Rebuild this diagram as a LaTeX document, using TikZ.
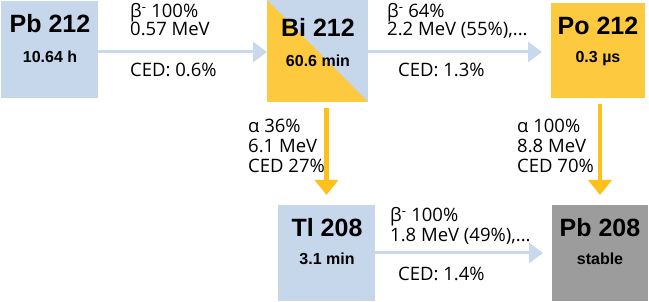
\documentclass[tikz,border=0pt]{standalone}
\usepackage{fontspec}
\setmainfont{Open Sans}
\newfontfamily\boxfont{Liberation Sans}
\usetikzlibrary{arrows.meta}
\definecolor{boxblue}{HTML}{C6D7EC}
\definecolor{arrblue}{HTML}{C8D9EE}
\definecolor{boxgold}{HTML}{FDC93E}
\definecolor{arrgold}{HTML}{FDC11C}
\definecolor{boxgray}{HTML}{9C9C9C}
\tikzset{
  nuc/.style={draw=none, minimum width=#1, inner sep=0pt, outer sep=0pt},
  ttl/.style={font=\boxfont\fontsize{25}{25}\selectfont\bfseries, anchor=base, inner sep=0pt},
  sub/.style={font=\boxfont\fontsize{16}{16}\selectfont\bfseries, anchor=base, inner sep=0pt},
  lab/.style={font=\fontsize{18.5}{19}\selectfont, anchor=base west, inner sep=0pt},
  barrow/.style={draw=arrblue, line width=3pt, -{Triangle[width=20pt,length=14pt]}},
  garrow/.style={draw=arrgold, line width=4.5pt, -{Triangle[width=23pt,length=15pt]}},
}
\begin{document}
\begin{tikzpicture}[x=1pt,y=-1pt]
\useasboundingbox (0,0) rectangle (649,302);
% boxes
\node[nuc=97pt, minimum height=97pt, fill=boxblue] (pb212) at (49.5,49.5) {};
\node[nuc=101pt, minimum height=102pt, fill=boxblue] (bi212) at (317.5,51) {};
\fill[boxgold] (bi212.north west) -- (bi212.south west) -- (bi212.south east) -- cycle;
\node[nuc=94pt, minimum height=95pt, fill=boxgold] (po212) at (598,50.5) {};
\node[nuc=97pt, minimum height=96pt, fill=boxblue] (tl208) at (326.5,253) {};
\node[nuc=96pt, minimum height=96pt, fill=boxgray] (pb208) at (600,253) {};
% box texts
\node[ttl] (t1) at (50,33) {Pb 212};
\node[sub] (s1) at (50,63) {10.64 h};
\node[ttl] (t2) at (318,37) {Bi 212};
\node[sub] (s2) at (318,67) {60.6 min};
\node[ttl] (t3) at (598,35) {Po 212};
\node[sub] (s3) at (598,63) {0.3 µs};
\node[ttl] (t4) at (327,237) {Tl 208};
\node[sub] (s4) at (327,265) {3.1 min};
\node[ttl] (t5) at (600,237) {Pb 208};
\node[sub] (s5) at (600,265) {stable};
% arrows
\draw[barrow] (pb212.east |- 0,52) -- (bi212.west |- 0,52);
\draw[barrow, shorten >=9pt] (bi212.east |- 0,52) -- (po212.west |- 0,52);
\draw[barrow, shorten >=9pt] (tl208.east |- 0,253) -- (pb208.west |- 0,253);
\draw[garrow, shorten <=6pt, shorten >=10pt] (bi212.south -| tl208.north) -- (tl208.north);
\draw[garrow, shorten <=6pt, shorten >=10pt] (po212.south -| pb208.north) -- (pb208.north);
% labels
\node[lab] (a1) at (130,18) {β\textsuperscript{-} 100\%};
\node[lab] (a2) at (130,36) {0.57 MeV};
\node[lab] (a3) at (130,77) {CED: 0.6\%};
\node[lab] (b1) at (387,18) {β\textsuperscript{-} 64\%};
\node[lab] (b2) at (387,36) {2.2 MeV (55\%),...};
\node[lab] (b3) at (398,77) {CED: 1.3\%};
\node[lab] (c1) at (248,133) {α 36\%};
\node[lab] (c2) at (248,153) {6.1 MeV};
\node[lab] (c3) at (248,173) {CED 27\%};
\node[lab] (d1) at (517,133) {α 100\%};
\node[lab] (d2) at (517,153) {8.8 MeV};
\node[lab] (d3) at (517,173) {CED 70\%};
\node[lab] (e1) at (390,222) {β\textsuperscript{-} 100\%};
\node[lab] (e2) at (390,242) {1.8 MeV (49\%),...};
\node[lab] (e3) at (398,280) {CED: 1.4\%};
\end{tikzpicture}
\end{document}
